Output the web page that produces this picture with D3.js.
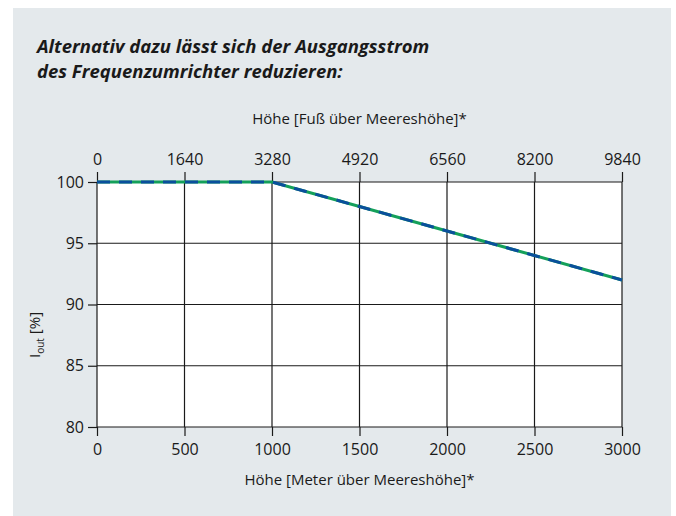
<!DOCTYPE html>
<html>
<head>
<meta charset="utf-8">
<script src="https://cdn.jsdelivr.net/npm/d3@7"></script>
<style>
  body { margin: 0; background: #fff; }
  svg text { font-family: "Open Sans", "Noto Sans", sans-serif; fill: #1a1a1a; }
</style>
</head>
<body>
<script>
// data
const altitudeM = [0, 1000, 3000]
const currentPct = [100, 100, 92]
const meterTicks = [0, 500, 1000, 1500, 2000, 2500, 3000]
const feetTicks = [0, 1640, 3280, 4920, 6560, 8200, 9840]
const pctTicks = [80, 85, 90, 95, 100]

const W = 676, H = 516
const plot = { left: 97, right: 622, top: 182, bottom: 427 }

const svg = d3.select('body').append('svg')
    .attr('width', W).attr('height', H)

// card background
svg.append('rect')
   .attr('x', 13).attr('y', 8)
   .attr('width', 658).attr('height', H - 8)
   .attr('fill', '#e4e9ec')

// title
const title = svg.append('text')
   .attr('x', 37).attr('y', 53)
   .attr('font-size', 18.5).attr('font-weight', 'bold').attr('font-style', 'italic')
title.append('tspan').attr('x', 37).text('Alternativ dazu lässt sich der Ausgangsstrom')
title.append('tspan').attr('x', 37).attr('dy', 25).text('des Frequenzumrichter reduzieren:')

let x = d3.scaleLinear().domain([0, 3000]).range([plot.left, plot.right])
let xFt = d3.scaleLinear().domain([0, 9840]).range([plot.left, plot.right])
let y = d3.scaleLinear().domain([80, 100]).range([plot.bottom, plot.top])

// plot background
svg.append('rect')
   .attr('x', plot.left).attr('y', plot.top)
   .attr('width', plot.right - plot.left).attr('height', plot.bottom - plot.top)
   .attr('fill', '#fff')

// grid
svg.append('g').selectAll('line')
   .data(meterTicks).enter().append('line')
   .attr('x1', d => x(d)).attr('x2', d => x(d))
   .attr('y1', plot.top).attr('y2', plot.bottom)
   .attr('stroke', '#1a1a1a').attr('stroke-width', 1.2)
svg.append('g').selectAll('line')
   .data(pctTicks).enter().append('line')
   .attr('x1', plot.left).attr('x2', plot.right)
   .attr('y1', d => y(d)).attr('y2', d => y(d))
   .attr('stroke', '#1a1a1a').attr('stroke-width', 1.2)

// axes
const styleAxis = g => {
    g.select('.domain').remove()
    g.selectAll('.tick line').attr('stroke', '#1a1a1a').attr('stroke-width', 1.2)
    g.selectAll('.tick text').attr('font-size', 16).attr('fill', '#1a1a1a')
}
svg.append('g')
   .attr('transform', `translate(0,${plot.bottom})`)
   .call(d3.axisBottom(x).tickValues(meterTicks).tickSize(9).tickPadding(8).tickFormat(d => d))
   .call(styleAxis)
svg.append('g')
   .attr('transform', `translate(0,${plot.top})`)
   .call(d3.axisTop(xFt).tickValues(feetTicks).tickSize(10).tickPadding(7).tickFormat(d => d))
   .call(styleAxis)
svg.append('g')
   .attr('transform', `translate(${plot.left},0)`)
   .call(d3.axisLeft(y).tickValues(pctTicks).tickSize(9).tickPadding(4).tickFormat(d => d))
   .call(styleAxis)

// axis titles
svg.append('text')
   .attr('x', (plot.left + plot.right) / 2).attr('y', 124)
   .attr('text-anchor', 'middle').attr('font-size', 15)
   .text('Höhe [Fuß über Meereshöhe]*')
svg.append('text')
   .attr('x', (plot.left + plot.right) / 2).attr('y', 485)
   .attr('text-anchor', 'middle').attr('font-size', 15)
   .text('Höhe [Meter über Meereshöhe]*')
const yl = svg.append('text')
   .attr('transform', `translate(40,358) rotate(-90)`)
   .attr('font-size', 15)
yl.append('tspan').text('I')
yl.append('tspan').attr('font-size', 10).attr('dy', 4).text('out')
yl.append('tspan').attr('dy', -4).text(' [%]')

// curve: green solid underneath, blue dashed on top
const pts = altitudeM.map((a, i) => [a, currentPct[i]])
const line = d3.line().x(d => x(d[0])).y(d => y(d[1]))
svg.append('path').datum(pts)
   .attr('d', line).attr('fill', 'none')
   .attr('stroke', '#14a05a').attr('stroke-width', 3)
svg.append('path').datum(pts)
   .attr('d', line).attr('fill', 'none')
   .attr('stroke', '#0a4f9c').attr('stroke-width', 3)
   .attr('stroke-dasharray', '13,9')
</script>
</body>
</html>
